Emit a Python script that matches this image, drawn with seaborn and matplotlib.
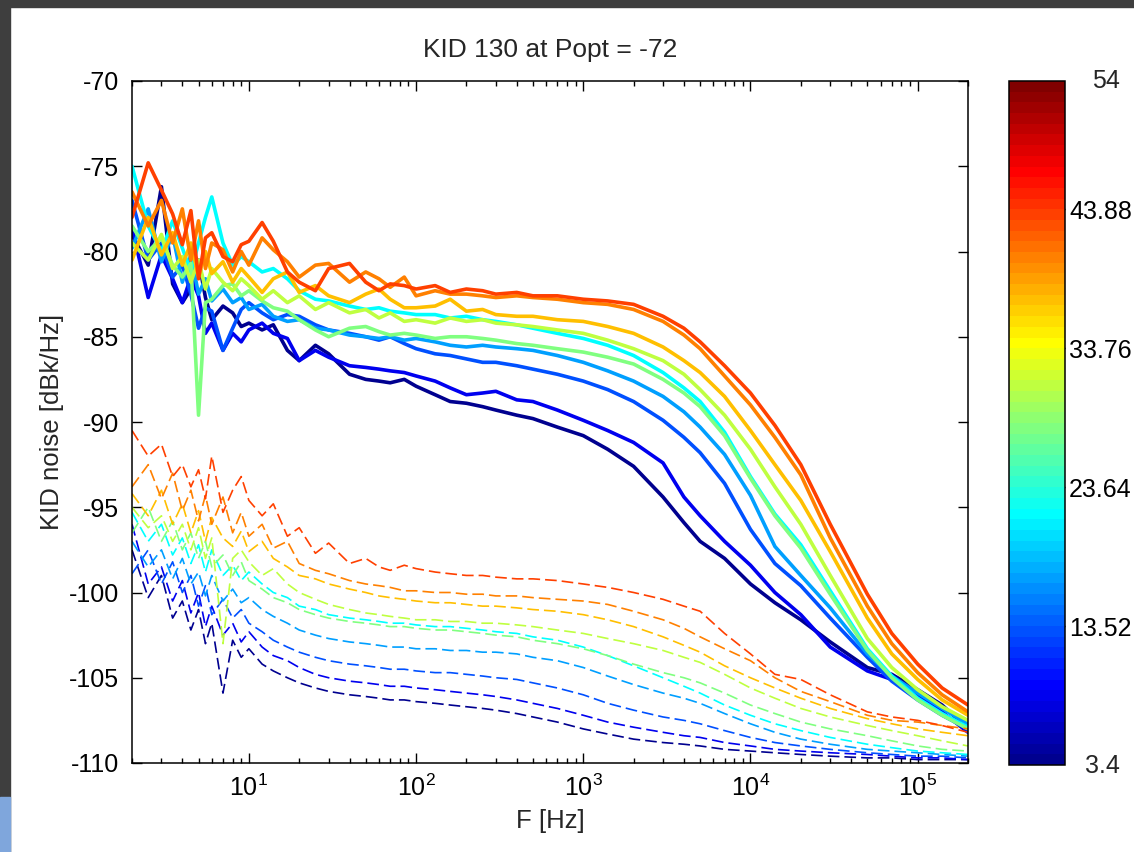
import numpy as np
import pandas as pd
import matplotlib
matplotlib.use("Agg")
import matplotlib.pyplot as plt
import matplotlib.colors as mcolors
from matplotlib.patches import Rectangle
from matplotlib.ticker import LogLocator, LogFormatterMathtext, NullFormatter
import seaborn as sns

# ---------------- data ----------------
freq = [2, 2.5, 3, 3.5, 4, 4.5, 5, 5.5, 6, 7, 8, 9, 10, 12, 14, 17, 20, 25, 30, 40,
        50, 60, 70, 85, 100, 130, 160, 200, 250, 300, 400, 500, 700, 1000, 1400,
        2000, 3000, 4000, 5000, 7000, 1e4, 1.4e4, 2e4, 3e4, 5e4, 7e4, 1e5, 1.4e5, 2e5]

# colour value of each curve pair (colorbar units)
temps = [3.8, 8.5, 13.1, 17.0, 21.7, 27.9, 31.0, 37.2, 40.3, 43.5]

# thick solid curves
solid_navy = [-79.0, -80.8, -76.2, -81.9, -83.0, -82.2, -80.5, -82.7, -84.0, -83.2, -83.6, -84.4, -84.2, -84.6, -84.3, -85.8, -86.4, -85.5, -86.0, -87.2,
              -87.5, -87.6, -87.7, -87.5, -87.9, -88.4, -88.8, -88.9, -89.1, -89.3, -89.6, -89.8, -90.3, -90.8, -91.6,
              -92.6, -94.4, -95.9, -97.0, -98.0, -99.5, -100.6, -101.6, -102.9, -104.4, -104.8, -105.7, -106.6, -108.0]
solid_darkblue = [-78.6, -82.7, -80.2, -81.6, -83.0, -81.5, -82.6, -84.8, -84.2, -85.8, -84.8, -85.3, -84.6, -84.2, -84.8, -85.1, -86.4, -85.8, -86.2, -86.7,
                  -86.8, -86.9, -87.0, -87.1, -87.3, -87.6, -88.0, -88.4, -88.3, -88.2, -88.7, -88.8, -89.3, -89.9, -90.5,
                  -91.2, -92.4, -94.4, -95.5, -97.0, -98.4, -100.0, -101.3, -103.2, -104.6, -105.1, -106.0, -107.0, -108.2]
solid_blue = [-77.0, -80.5, -79.5, -81.5, -80.8, -82.5, -84.5, -83.3, -83.5, -85.8, -84.5, -83.4, -83.0, -83.6, -84.0, -83.7, -83.8, -84.3, -84.6, -84.8,
              -85.0, -85.2, -85.0, -85.4, -85.7, -86.0, -86.1, -86.3, -86.5, -86.5, -86.7, -86.9, -87.2, -87.6, -88.1,
              -88.8, -89.9, -90.9, -91.8, -93.6, -96.3, -98.3, -99.6, -101.5, -103.8, -105.2, -106.3, -107.2, -108.0]
solid_lightblue = [-79.8, -77.5, -80.6, -79.0, -81.8, -80.2, -82.5, -81.6, -82.9, -82.2, -83.0, -82.7, -83.4, -83.1, -83.8, -84.1, -84.0, -84.5, -84.6, -84.9,
                   -85.0, -85.1, -85.0, -85.2, -85.1, -85.3, -85.5, -85.6, -85.5, -85.6, -85.7, -85.8, -86.1, -86.5, -87.0,
                   -87.6, -88.5, -89.4, -90.3, -91.9, -94.3, -97.3, -99.0, -100.9, -103.6, -104.9, -105.9, -106.8, -107.7]
solid_cyan = [-75.0, -78.5, -80.0, -78.2, -79.8, -81.2, -79.5, -78.0, -76.8, -79.5, -80.8, -80.3, -80.6, -81.2, -81.0, -81.6, -82.3, -82.8, -82.9, -83.2,
              -83.4, -83.3, -83.5, -83.6, -83.7, -83.7, -83.9, -83.8, -84.0, -84.1, -84.3, -84.5, -84.8, -85.1, -85.5,
              -86.1, -87.1, -88.0, -88.8, -90.6, -93.2, -95.4, -97.2, -99.9, -103.3, -104.9, -106.2, -107.1, -107.9]
solid_green = [-78.5, -80.0, -79.2, -80.8, -81.5, -80.7, -89.6, -83.0, -82.8, -82.0, -81.9, -82.6, -82.3, -82.9, -83.3, -83.5, -84.0, -84.6, -85.0, -84.5,
               -84.4, -84.7, -84.9, -84.8, -84.9, -85.1, -85.0, -85.0, -85.1, -85.2, -85.4, -85.5, -85.7, -85.9, -86.2,
               -86.6, -87.5, -88.3, -89.1, -90.8, -93.3, -95.5, -97.4, -100.1, -103.4, -105.0, -106.3, -107.2, -108.0]
solid_yellowgreen = [-79.5, -80.5, -79.0, -81.0, -80.3, -81.8, -80.5, -82.2, -81.0, -81.8, -82.3, -81.6, -82.0, -82.8, -82.3, -83.0, -82.6, -83.4, -83.0, -83.6,
                     -83.4, -83.9, -83.6, -84.1, -84.0, -84.2, -83.9, -84.1, -84.0, -84.2, -84.3, -84.4, -84.6, -84.8, -85.2,
                     -85.7, -86.4, -87.2, -88.1, -89.6, -91.6, -93.8, -96.0, -99.0, -102.7, -104.4, -105.7, -106.7, -107.5]
solid_gold = [-80.5, -78.0, -80.2, -78.9, -80.8, -79.5, -81.5, -80.0, -81.3, -80.6, -81.8, -81.0, -81.5, -82.4, -81.6, -81.2, -82.4, -82.0, -82.6, -83.0,
              -82.5, -82.2, -82.8, -83.3, -83.3, -83.2, -82.8, -83.5, -83.4, -83.7, -83.8, -83.8, -84.0, -84.1, -84.4,
              -84.8, -85.6, -86.4, -87.1, -88.5, -90.5, -92.5, -94.6, -97.6, -101.5, -103.6, -105.1, -106.3, -107.2]
solid_orange = [-76.5, -78.5, -77.0, -79.5, -77.5, -80.5, -78.2, -81.0, -79.5, -79.9, -81.2, -80.0, -80.8, -79.2, -79.9, -80.6, -81.5, -80.8, -80.7, -81.8,
                -81.2, -81.6, -82.1, -81.5, -82.6, -82.3, -82.5, -82.5, -82.6, -82.7, -82.6, -82.7, -82.8, -83.0, -83.1,
                -83.4, -84.1, -84.9, -85.7, -87.3, -89.0, -90.9, -93.1, -96.8, -100.8, -103.0, -104.7, -106.0, -107.0]
solid_red = [-78.0, -74.8, -76.4, -77.8, -79.6, -77.6, -81.6, -79.2, -78.9, -80.3, -80.6, -79.6, -79.4, -78.3, -79.4, -81.2, -81.8, -82.3, -81.0, -80.7,
             -81.8, -82.3, -81.9, -82.0, -82.2, -82.0, -82.4, -82.2, -82.3, -82.5, -82.4, -82.6, -82.6, -82.8, -82.9,
             -83.1, -83.8, -84.5, -85.3, -86.7, -88.3, -90.2, -92.5, -96.0, -100.1, -102.4, -104.2, -105.6, -106.6]

# thin dashed curves
dashed_navy = [-97.5, -100.3, -99.0, -101.5, -100.5, -102.2, -101.0, -103.0, -101.8, -105.9, -102.8, -103.8, -103.3, -104.2, -104.6, -105.0, -105.3, -105.6, -105.8, -106.0,
               -106.1, -106.2, -106.3, -106.3, -106.4, -106.5, -106.6, -106.7, -106.8, -106.9, -107.1, -107.3, -107.6, -108.0, -108.3,
               -108.6, -108.8, -108.9, -109.0, -109.2, -109.3, -109.4, -109.5, -109.6, -109.7, -109.7, -109.8, -109.8, -109.8]
dashed_darkblue = [-96.0, -99.5, -98.5, -100.5, -99.3, -101.2, -100.0, -102.0, -100.8, -102.5, -101.8, -102.9, -102.3, -103.2, -103.7, -104.0, -104.4, -104.8, -105.0, -105.2,
                   -105.3, -105.4, -105.5, -105.5, -105.6, -105.7, -105.8, -105.9, -106.0, -106.1, -106.3, -106.5, -106.8, -107.2, -107.6,
                   -107.9, -108.2, -108.4, -108.5, -108.8, -109.0, -109.2, -109.3, -109.4, -109.5, -109.6, -109.7, -109.7, -109.8]
dashed_blue = [-98.9, -97.5, -99.5, -98.2, -100.0, -99.0, -100.8, -99.6, -101.3, -100.4, -101.5, -101.0, -101.8, -102.3, -102.8, -103.2, -103.5, -103.8, -104.0, -104.2,
               -104.3, -104.4, -104.5, -104.5, -104.6, -104.7, -104.7, -104.8, -104.9, -105.0, -105.1, -105.3, -105.6, -106.0, -106.5,
               -106.9, -107.3, -107.5, -107.7, -108.1, -108.5, -108.8, -109.0, -109.2, -109.4, -109.5, -109.6, -109.6, -109.7]
dashed_lightblue = [-97.0, -98.5, -97.5, -99.2, -98.0, -99.5, -98.8, -100.2, -99.0, -100.5, -99.8, -100.6, -100.3, -101.0, -101.4, -101.8, -102.2, -102.5, -102.7, -102.9,
                    -103.0, -103.1, -103.2, -103.2, -103.3, -103.3, -103.4, -103.4, -103.5, -103.5, -103.6, -103.8, -104.0, -104.4, -104.9,
                    -105.4, -105.9, -106.2, -106.5, -107.1, -107.7, -108.2, -108.6, -108.9, -109.2, -109.3, -109.4, -109.5, -109.6]
dashed_cyan = [-95.3, -97.0, -96.0, -97.8, -96.8, -98.3, -97.2, -98.8, -97.5, -99.0, -98.4, -99.3, -98.8, -99.5, -100.0, -100.3, -100.8, -101.0, -101.3, -101.5,
               -101.6, -101.7, -101.8, -101.8, -101.9, -102.0, -102.0, -102.1, -102.2, -102.3, -102.4, -102.6, -102.8, -103.2, -103.7,
               -104.3, -105.0, -105.5, -105.9, -106.6, -107.2, -107.7, -108.1, -108.5, -108.9, -109.1, -109.3, -109.4, -109.5]
dashed_green = [-96.5, -95.0, -97.0, -95.8, -97.5, -96.5, -98.0, -97.0, -98.5, -97.8, -99.0, -98.2, -99.3, -99.8, -100.3, -100.6, -101.0, -101.3, -101.5, -101.7,
                -101.8, -101.9, -102.0, -102.0, -102.1, -102.2, -102.2, -102.3, -102.4, -102.5, -102.6, -102.8, -103.0, -103.3, -103.7,
                -104.2, -104.7, -105.0, -105.3, -105.9, -106.6, -107.1, -107.6, -108.0, -108.4, -108.7, -109.0, -109.2, -109.3]
dashed_yellowgreen = [-95.0, -96.2, -95.5, -97.0, -96.0, -97.5, -96.2, -98.0, -96.8, -103.0, -98.0, -97.5, -98.2, -99.0, -98.6, -99.5, -100.0, -100.4, -100.7, -101.0,
                      -101.2, -101.3, -101.4, -101.5, -101.6, -101.6, -101.7, -101.7, -101.8, -101.8, -101.9, -102.0, -102.2, -102.4, -102.7,
                      -103.0, -103.4, -103.8, -104.1, -104.8, -105.6, -106.2, -106.8, -107.3, -107.8, -108.1, -108.4, -108.7, -109.0]
dashed_gold = [-94.2, -95.5, -94.0, -96.0, -94.8, -96.5, -95.2, -97.0, -95.6, -96.8, -97.3, -96.4, -97.6, -97.0, -98.0, -98.5, -99.0, -99.2, -99.5, -99.8,
               -100.0, -100.2, -100.3, -100.4, -100.5, -100.6, -100.6, -100.7, -100.8, -100.8, -100.9, -101.0, -101.1, -101.3, -101.6,
               -102.0, -102.6, -103.1, -103.5, -104.3, -105.0, -105.6, -106.2, -106.8, -107.4, -107.7, -108.0, -108.2, -108.4]
dashed_orange = [-93.8, -92.5, -94.5, -93.0, -95.2, -94.0, -95.8, -94.3, -96.0, -94.4, -96.5, -95.3, -96.7, -96.0, -97.4, -97.0, -98.3, -98.7, -98.9, -99.3,
                 -99.5, -99.6, -99.7, -99.9, -99.9, -100.0, -100.0, -100.1, -100.1, -100.2, -100.2, -100.3, -100.4, -100.5, -100.7,
                 -101.1, -101.6, -102.1, -102.6, -103.3, -104.0, -105.0, -105.8, -106.4, -107.2, -107.5, -107.6, -107.8, -108.0]
dashed_red = [-90.5, -92.0, -91.3, -93.2, -92.5, -93.8, -92.8, -94.5, -92.0, -95.3, -94.0, -93.2, -94.6, -95.5, -94.8, -96.7, -96.2, -97.7, -97.1, -98.3,
              -98.0, -98.5, -98.7, -98.4, -98.6, -98.8, -98.9, -99.0, -99.0, -99.1, -99.2, -99.2, -99.3, -99.5, -99.7,
              -100.0, -100.4, -100.8, -101.1, -102.4, -103.6, -104.8, -105.1, -106.0, -107.0, -107.3, -107.5, -107.8, -108.2]

solid_curves = [solid_navy, solid_darkblue, solid_blue, solid_lightblue, solid_cyan,
                solid_green, solid_yellowgreen, solid_gold, solid_orange, solid_red]
dashed_curves = [dashed_navy, dashed_darkblue, dashed_blue, dashed_lightblue, dashed_cyan,
                 dashed_green, dashed_yellowgreen, dashed_gold, dashed_orange, dashed_red]

cbar_min, cbar_max = 3.4, 53.2
cbar_ticks = [13.52, 23.64, 33.76, 43.88]
cbar_end_labels = ["3.4", "54"]

# long-form table for seaborn
rows = []
for kind, curves in (("dashed", dashed_curves), ("solid", solid_curves)):
    for t, vals in zip(temps, curves):
        for f, v in zip(freq, vals):
            rows.append({"F": f, "noise": v, "T": t, "kind": kind})
df = pd.DataFrame(rows)


def classic_jet(n=64):
    """Piecewise-linear jet as in the classic 64-level table."""
    m = n // 4
    u = np.concatenate([np.arange(1, m + 1) / m, np.ones(m - 1), np.arange(m, 0, -1) / m])
    g = int(np.ceil(m / 2)) - (1 if n % 4 == 1 else 0) + np.arange(1, len(u) + 1)
    r = g + m
    b = g - m
    table = np.zeros((n, 3))
    table[r[r <= n] - 1, 0] = u[r <= n]
    table[g[g <= n] - 1, 1] = u[g <= n]
    table[b[b >= 1] - 1, 2] = u[b >= 1]
    return mcolors.ListedColormap(table, name="jet64")


# ---------------- figure ----------------
sns.set_theme(style="white")
plt.rcParams["font.family"] = ["Liberation Sans", "DejaVu Sans"]
plt.rcParams["axes.unicode_minus"] = False

W, H = 1134, 852
fig = plt.figure(figsize=(W / 100, H / 100), dpi=100, facecolor="white")

# window chrome around the figure
fig.patches.append(Rectangle((0, 1 - 7 / H), 1, 7 / H, transform=fig.transFigure,
                             color="#3e3e3e", zorder=0))
fig.patches.append(Rectangle((0, 0), 10 / W, 1, transform=fig.transFigure,
                             color="#3e3e3e", zorder=0))
fig.patches.append(Rectangle((0, 0), 10 / W, 55 / H, transform=fig.transFigure,
                             color="#7fa6dc", zorder=1))

ax = fig.add_axes([132 / W, 1 - 763 / H, (968 - 132) / W, (763 - 81) / H])

# 64-step jet, shared by the curves and the colorbar
jet64 = classic_jet(64)
norm = mcolors.Normalize(vmin=cbar_min, vmax=cbar_max)
palette = {t: jet64(norm(t)) for t in temps}

sns.lineplot(data=df, x="F", y="noise", hue="T", style="kind", size="kind",
             palette=palette,
             dashes={"solid": "", "dashed": (7, 3)},
             sizes={"solid": 2.6, "dashed": 1.2},
             estimator=None, sort=False, legend=False, ax=ax)

ax.set_xscale("log")
ax.set_xlim(2, 2e5)
ax.set_ylim(-110, -70)
ax.set_yticks(np.arange(-110, -69, 5))
ax.xaxis.set_major_locator(LogLocator(base=10, numticks=10))
ax.xaxis.set_minor_locator(LogLocator(base=10, subs=np.arange(2, 10), numticks=10))
ax.xaxis.set_major_formatter(LogFormatterMathtext())
ax.xaxis.set_minor_formatter(NullFormatter())

for s in ax.spines.values():
    s.set_visible(True)
    s.set_color("black")
    s.set_linewidth(1.1)
ax.tick_params(which="both", direction="in", top=True, right=True, bottom=True, left=True,
               colors="black", labelsize=18, width=1.0)
ax.tick_params(which="major", length=7, pad=8)
ax.tick_params(which="minor", length=3.8)
ax.tick_params(axis="y", pad=9)
ax.grid(False)

ax.set_xlabel("F [Hz]", fontsize=18.5, labelpad=6)
ax.set_ylabel("KID noise [dBk/Hz]", fontsize=18.5, labelpad=4)
ax.set_title("KID 130 at Popt = -72", fontsize=19, pad=17)

# colorbar
cax = fig.add_axes([1009 / W, 1 - 765 / H, 56 / W, 684 / H])
sm = plt.cm.ScalarMappable(norm=norm, cmap=jet64)
cb = fig.colorbar(sm, cax=cax, ticks=cbar_ticks)
cb.ax.set_yticklabels([f"{t:.2f}" for t in cbar_ticks])
cb.outline.set_edgecolor("black")
cb.outline.set_linewidth(1.1)
cb.ax.tick_params(direction="in", left=True, right=True, length=5, width=1.0,
                  labelsize=18, pad=3, colors="black")
cb.ax.minorticks_off()
fig.text(1120 / W, 1 - 766 / H, cbar_end_labels[0], fontsize=18, ha="right", va="center")
fig.text(1120 / W, 1 - 81 / H, cbar_end_labels[1], fontsize=18, ha="right", va="center")

fig.savefig("out.png", dpi=100, facecolor=fig.get_facecolor())
